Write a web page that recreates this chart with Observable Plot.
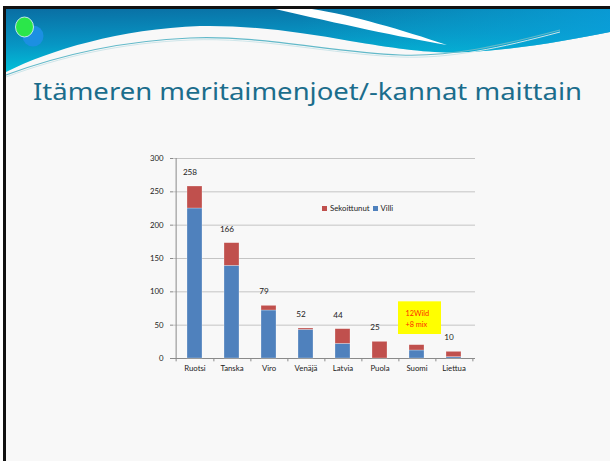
<!DOCTYPE html>
<html>
<head>
<meta charset="utf-8">
<script src="https://cdn.jsdelivr.net/npm/d3@7"></script>
<script src="https://cdn.jsdelivr.net/npm/@observablehq/plot@0.6"></script>
<style>
  html, body { margin: 0; padding: 0; background: #fff; }
  #page { position: relative; width: 610px; height: 461px; overflow: hidden; background: #fff; }
  #slide { position: absolute; left: 3px; top: 6px; width: 607px; height: 455px;
           border-left: 3px solid #111; border-top: 3px solid #111; box-sizing: border-box;
           background: #f8f8f8; }
  #legend { position: absolute; left: 322px; top: 203px; font-family: Lato, sans-serif;
            font-size: 7.8px; color: #222; display: flex; align-items: center; white-space: nowrap; }
  #legend .sw { display: inline-block; width: 5px; height: 5px; margin-right: 3px; }
  #legend .item { display: flex; align-items: center; margin-right: 3px; }
  #chart { position: absolute; left: 140px; top: 150px; }
</style>
</head>
<body>
<div id="page">
  <div id="slide"></div>
  <svg id="header" width="610" height="90" style="position:absolute;left:0;top:0">
    <defs>
      <linearGradient id="tealGrad" x1="0" y1="0" x2="0.25" y2="1">
        <stop offset="0" stop-color="#0a6ea3"/>
        <stop offset="0.55" stop-color="#0796c4"/>
        <stop offset="1" stop-color="#00c6dc"/>
      </linearGradient>
      <linearGradient id="rightGrad" x1="0" y1="0" x2="1" y2="0">
        <stop offset="0" stop-color="#06a8cc" stop-opacity="0"/>
        <stop offset="1" stop-color="#0aa0dc" stop-opacity="0.8"/>
      </linearGradient>
    </defs>
    <path d="M6,9 L610,9 L610,32 C570,40 520,49 470,52 C430,54 400,49 350,41 C300,32 250,25 200,26 C120,29 50,50 6,72 Z" fill="url(#tealGrad)"/>
    <path d="M300,9 L610,9 L610,32 C570,40 520,49 470,52 C430,54 400,49 350,41 C330,37 315,34 300,31 Z" fill="url(#rightGrad)"/>
    <path d="M275,9 L312,9 C352,15 402,30 447,45 C400,37 340,24 275,9 Z" fill="#ffffff"/>
    <path d="M6,75 C60,55 120,41 190,38 C260,35 330,52 400,55 C450,57 500,46 560,30" fill="none" stroke="#62b9c9" stroke-width="1.2"/>
    <path d="M6,77 C60,57 120,43 190,40 C260,37 330,54 400,57 C450,59 500,48 560,32" fill="none" stroke="#cfe6ea" stroke-width="1"/>
    <circle cx="33" cy="36" r="10.5" fill="#1c8fe2"/>
    <ellipse cx="24.5" cy="27" rx="9" ry="10" fill="#2be64a" stroke="#e8f6fb" stroke-width="0.8"/>
  </svg>
  <svg width="610" height="40" style="position:absolute;left:0;top:75">
    <text x="33" y="25" font-family="'Noto Sans', sans-serif" font-size="23" fill="#1b6d8c"
          textLength="549" lengthAdjust="spacingAndGlyphs">Itämeren meritaimenjoet/-kannat maittain</text>
  </svg>
  <div id="chart"></div>
  <div id="legend"></div>
</div>
<script>
const categories = ["Ruotsi", "Tanska", "Viro", "Venäjä", "Latvia", "Puola", "Suomi", "Liettua"];
const villi = [225, 139, 72, 43, 22, 0, 12, 2];
const sekoittunut = [33, 34, 7, 2, 22, 25, 8, 8];
const totalLabels = ["258", "166", "79", "52", "44", "25", "", "10"];
const yTicks = [0, 50, 100, 150, 200, 250, 300];
const seriesNames = ["Villi", "Sekoittunut"];
const seriesColors = ["#4f81bd", "#c0504d"];
const legendOrder = ["Sekoittunut", "Villi"];
const noteCategory = "Suomi";
const noteText = "12Wild\n+8 mix";
const noteLow = 36;
const noteHigh = 85;

const data = [];
categories.forEach((c, i) => {
  data.push({category: c, series: "Villi", value: villi[i]});
  data.push({category: c, series: "Sekoittunut", value: sekoittunut[i]});
});
const labels = categories.map((c, i) => ({category: c, total: villi[i] + sekoittunut[i], text: totalLabels[i]}));
const note = [{category: noteCategory, y1: noteLow, y2: noteHigh, ym: (noteLow + noteHigh) / 2, text: noteText}];

const W = 340, H = 230, ML = 33, MR = 5;
const step = (W - ML - MR) / categories.length;

const chart = Plot.plot({
  width: W, height: H,
  marginLeft: ML, marginRight: MR, marginTop: 8, marginBottom: 22,
  style: {fontFamily: "Lato, sans-serif", fontSize: "7.8px", color: "#222", background: "transparent"},
  x: {domain: categories, paddingInner: 0.6, paddingOuter: 0.3, label: null},
  y: {domain: [0, 300], label: null},
  color: {domain: seriesNames, range: seriesColors},
  marks: [
    Plot.gridY(yTicks.filter(d => d > 0), {stroke: "#c4c4c4", strokeOpacity: 1}),
    Plot.axisY({ticks: yTicks, tickSize: 3, tickPadding: 7, stroke: "#8a8a8a", label: null}),
    Plot.axisX({tickSize: 0, tickPadding: 7, label: null}),
    Plot.ruleX([categories[0]], {dx: -step / 2, y1: -5, y2: 300, stroke: "#8a8a8a"}),
    Plot.ruleX(categories, {dx: step / 2, y1: -5, y2: 0, stroke: "#8a8a8a"}),
    Plot.ruleY([0], {stroke: "#8a8a8a"}),
    Plot.barY(data, {x: "category", y: "value", fill: "series", stroke: "#ffffff", strokeOpacity: 0.45, strokeWidth: 0.6}),
    Plot.text(labels, {x: "category", y: "total", text: "text", dy: -14, dx: -5, fill: "#222", fontSize: 8.2}),
    Plot.barY(note, {x: "category", y1: "y1", y2: "y2", fill: "#ffff00", insetLeft: -11, insetRight: -17}),
    Plot.text(note, {x: "category", y: "ym", text: "text", textAnchor: "start", dx: -11.5, lineHeight: 1.45, fill: "#ff2a00", fontSize: 7.3})
  ]
});
document.getElementById("chart").appendChild(chart);

const legend = document.getElementById("legend");
legendOrder.forEach(name => {
  const item = document.createElement("span");
  item.className = "item";
  const sw = document.createElement("span");
  sw.className = "sw";
  sw.style.background = seriesColors[seriesNames.indexOf(name)];
  item.appendChild(sw);
  item.appendChild(document.createTextNode(name));
  legend.appendChild(item);
});
</script>
</body>
</html>
